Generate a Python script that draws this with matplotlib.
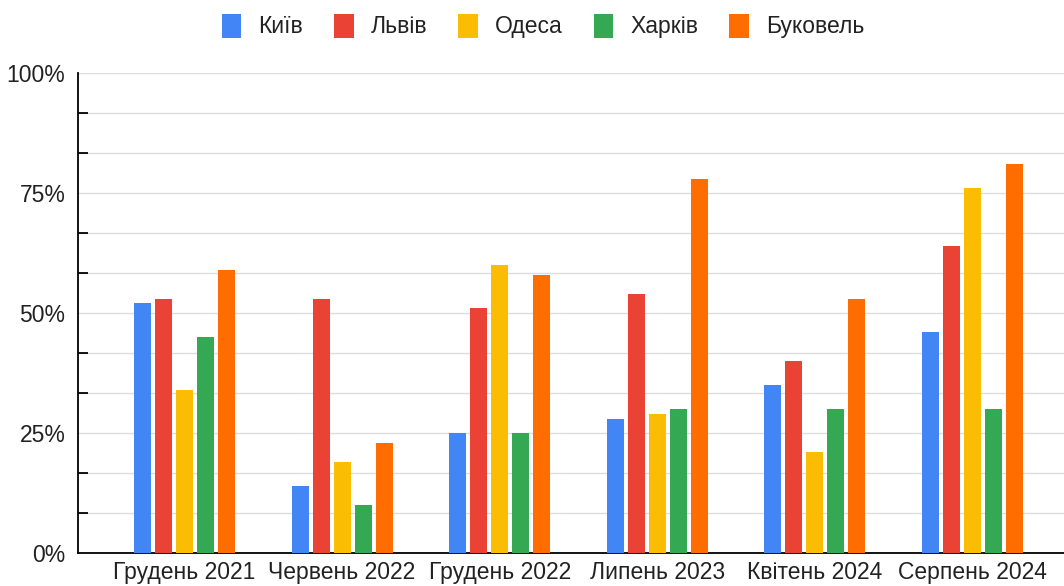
import numpy as np
import matplotlib
matplotlib.use('Agg')
import matplotlib.pyplot as plt
from matplotlib.patches import Patch
from matplotlib.ticker import MultipleLocator, FuncFormatter

# Data (percent)
periods = ['Грудень 2021', 'Червень 2022', 'Грудень 2022', 'Липень 2023', 'Квітень 2024', 'Серпень 2024']
cities = ['Київ', 'Львів', 'Одеса', 'Харків', 'Буковель']
kyiv = [52, 14, 25, 28, 35, 46]
lviv = [53, 53, 51, 54, 40, 64]
odesa = [34, 19, 60, 29, 21, 76]
kharkiv = [45, 10, 25, 30, 30, 30]
bukovel = [59, 23, 58, 78, 53, 81]
colors = ['#4285F4', '#EA4335', '#FBBC04', '#34A853', '#FF6D01']

plt.rcParams['font.family'] = ['Liberation Sans', 'DejaVu Sans']
text_color = '#222222'

fig = plt.figure(figsize=(10.64, 5.86), dpi=100)
# axes runs past the right edge, as in the original screenshot
ax = fig.add_axes([78 / 1064, 1 - 553 / 586, (1079 - 78) / 1064, 480 / 586])

x = np.arange(len(periods))
step = 21 / 157.5
width = 17 / 157.5
for i, (vals, col) in enumerate(zip([kyiv, lviv, odesa, kharkiv, bukovel], colors)):
    ax.bar(x + (i - 2) * step, vals, width=width, color=col, zorder=3)

ax.set_xlim(-0.676, 5.676)
ax.set_ylim(0, 100)

ax.yaxis.set_major_locator(MultipleLocator(25))
ax.yaxis.set_minor_locator(MultipleLocator(100 / 12))
ax.yaxis.set_major_formatter(FuncFormatter(lambda v, p: f'{int(v)}%'))
ax.grid(True, axis='y', which='both', color='#dddddd', linewidth=1, zorder=0)
ax.tick_params(axis='y', which='major', length=0, pad=9, labelsize=16.5, labelcolor=text_color)
ax.tick_params(axis='y', which='minor', direction='in', length=7, width=1.3, color='black')

ax.set_xticks(x)
ax.set_xticklabels(periods)
ax.tick_params(axis='x', length=0, pad=6, labelsize=16.5, labelcolor=text_color)

for s in ['top', 'right']:
    ax.spines[s].set_visible(False)
ax.spines['left'].set_color('black')
ax.spines['left'].set_linewidth(1.3)
ax.spines['bottom'].set_color('black')
ax.spines['bottom'].set_linewidth(1.3)
ax.set_axisbelow(True)

handles = [Patch(facecolor=c, edgecolor='none') for c in colors]
fig.legend(handles, cities, loc='center', bbox_to_anchor=(543 / 1064, 1 - 26 / 586),
           ncol=5, frameon=False, fontsize=16.5, labelcolor=text_color,
           handlelength=0.85, handleheight=1.25, handletextpad=0.75, columnspacing=1.35)

fig.savefig('out.png', dpi=100)
